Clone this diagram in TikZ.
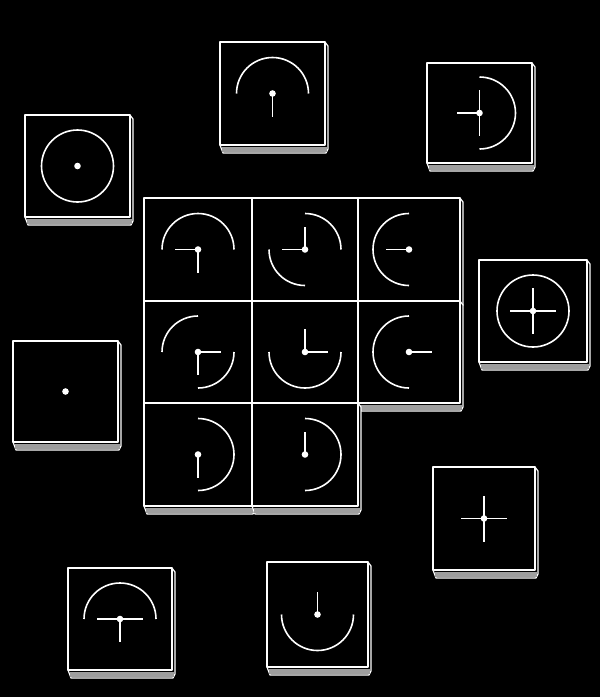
\documentclass[tikz,border=0pt]{standalone}
\usepackage{tikz}

% one tile: face, thin right side and grained bottom edge
% #1 name, #2 left, #3 top, #4 width, #5 height (px, y counted downwards)
\newcommand{\tileblock}[5]{%
  \pgfmathsetmacro{\tbL}{#2}%
  \pgfmathsetmacro{\tbT}{-(#3)}%
  \pgfmathsetmacro{\tbR}{#2+#4}%
  \pgfmathsetmacro{\tbB}{-(#3)-(#5)}%
  \filldraw[tileside] (\tbR,\tbT) -- ++(3,-4) -- (\tbR+3,\tbB-4)
    -- (\tbR+1,\tbB-8) -- (\tbL+3,\tbB-8) -- (\tbL,\tbB) -- cycle;
  \fill[tilegrain] (\tbL+2,\tbB-1.5) rectangle (\tbR+1.5,\tbB-6.5);
  \filldraw[tileface] (\tbL,\tbT) rectangle (\tbR,\tbB);
  \coordinate (#1) at ({(\tbL+\tbR)/2},{(\tbT+\tbB)/2});
}
% arcs of the dial (start/end angles), its spokes and its hub
\newcommand{\dialrim}[2]{\foreach \a/\b in {#2}{%
  \draw[rimline] (#1) ++(\a:36) arc[start angle=\a, end angle=\b, radius=36];}}
\newcommand{\dialspokes}[2]{\foreach \t in {#2}{%
  \draw[spokeline] (#1) -- ++(\t:23);}}
\newcommand{\dialhub}[1]{\fill[hubdot] (#1) circle[radius=3.3];}

\begin{document}
\begin{tikzpicture}[
  x=1pt, y=1pt,
  tileface/.style={draw=white, fill=black, line width=1.8pt, line join=round},
  tileside/.style={draw=white, fill=black, line width=1.2pt, line join=round},
  tilegrain/.style={fill=white!62!black},
  rimline/.style={draw=white, line width=1.6pt},
  spokeline/.style={draw=white, line width=1.8pt},
  hubdot/.style={fill=white}
]
  \fill[black] (0,0) rectangle (600,-697);
  \useasboundingbox (0,0) rectangle (600,-697);

  % =============================================================
  % loose tiles round the block
  % =============================================================
  \tileblock{tRing}{25}{115}{105}{102}
  \dialrim{tRing}{0/360}
  \dialhub{tRing}

  \tileblock{tArch}{220}{42}{105}{103}
  \dialrim{tArch}{0/180}
  \dialspokes{tArch}{270}
  \dialhub{tArch}

  \tileblock{tBow}{427}{63}{105}{100}
  \dialrim{tBow}{-90/90}
  \dialspokes{tBow}{90,180,270}
  \dialhub{tBow}

  \tileblock{tWheel}{479}{260}{108}{102}
  \dialrim{tWheel}{0/360}
  \dialspokes{tWheel}{0,90,180,270}
  \dialhub{tWheel}

  \tileblock{tDot}{13}{341}{105}{101}
  \dialhub{tDot}

  \tileblock{tCross}{433}{467}{102}{103}
  \dialspokes{tCross}{0,90,180,270}
  \dialhub{tCross}

  \tileblock{tDome}{68}{568}{104}{102}
  \dialrim{tDome}{0/180}
  \dialspokes{tDome}{0,180,270}
  \dialhub{tDome}

  \tileblock{tCup}{267}{562}{101}{105}
  \dialrim{tCup}{180/360}
  \dialspokes{tCup}{90}
  \dialhub{tCup}

  % =============================================================
  % the block of eight tiles
  % =============================================================
  \foreach \n/\x/\y/\w/\h in {c00/144/198/108/103, c01/252/198/106/103,
      c02/358/198/102/103, c10/144/301/108/102, c11/252/301/106/102,
      c12/358/301/102/102, c20/144/403/108/103, c21/252/403/106/103}{
    \tileblock{\n}{\x}{\y}{\w}{\h}
  }

  % row 1
  \dialrim{c00}{0/180}
  \dialspokes{c00}{180,270}
  \dialrim{c01}{0/90,180/270}
  \dialspokes{c01}{90,180}
  \dialrim{c02}{90/270}
  \dialspokes{c02}{180}
  % row 2
  \dialrim{c10}{90/180,270/360}
  \dialspokes{c10}{0,270}
  \dialrim{c11}{180/360}
  \dialspokes{c11}{0,90}
  \dialrim{c12}{90/270}
  \dialspokes{c12}{0}
  % row 3
  \dialrim{c20}{-90/90}
  \dialspokes{c20}{270}
  \dialrim{c21}{-90/90}
  \dialspokes{c21}{90}

  \foreach \n in {c00,c01,c02,c10,c11,c12,c20,c21}{
    \dialhub{\n}
  }
\end{tikzpicture}
\end{document}
